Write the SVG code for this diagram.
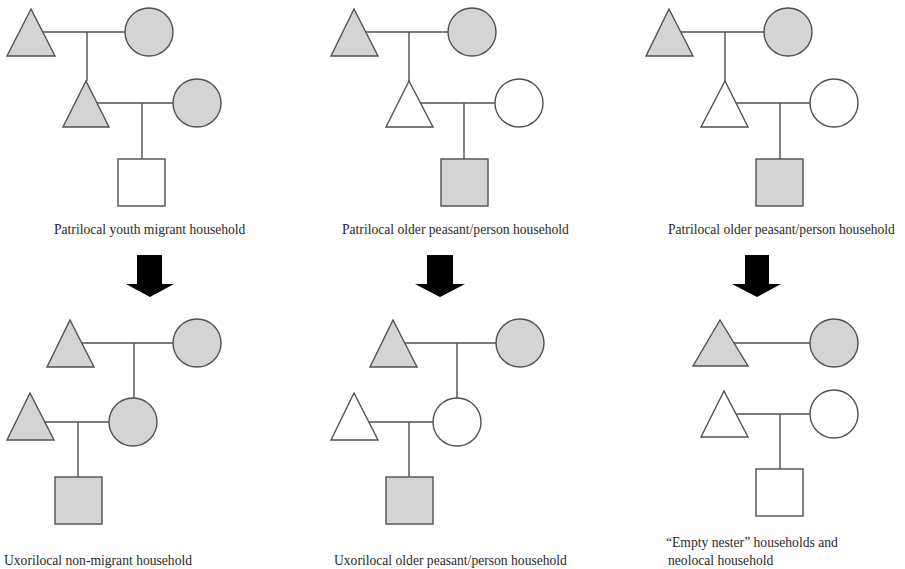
<svg xmlns="http://www.w3.org/2000/svg" width="905" height="569" viewBox="0 0 905 569">
<style>
.s{stroke:#505050;stroke-width:1.4}
.g{fill:#d4d4d4}
.w{fill:#ffffff}
.c{stroke:#505050;stroke-width:1.4;fill:none}
.t{font-family:"Liberation Serif","Times New Roman",serif;font-size:13.6px;fill:#2a2a2a}
.a{fill:#000}
</style>
<rect width="905" height="569" fill="#fff"/>
<g id="connectors">
<path class="c" d="M31 32H149M87 32V81M86 103H197M142 103V159"/>
<path class="c" d="M354 32H472M409 32V81M409 103H519M464 103V159"/>
<path class="c" d="M669 32H788M725 32V81M725 103H834M780 103V159"/>
<path class="c" d="M70 343H197M134 343V398M30 422H133M78 422V477"/>
<path class="c" d="M393 343H520M457 343V398M354 422H457M409 422V477"/>
<path class="c" d="M720 343H834M724 414H834M780 414V469"/>
</g>
<g id="arrows">
<polygon class="a" points="137,255 162,255 162,284 174,284 150,297 126,284 137,284"/>
<polygon class="a" points="427,255 453,255 453,284 465,284 440,297 415,284 427,284"/>
<polygon class="a" points="745,255 769,255 769,284 781,284 757,297 732,284 745,284"/>
</g>
<g id="p1-top-father"><polygon class="s g" points="31,9 7,56 55,56"/></g>
<g id="p1-top-mother"><circle class="s g" cx="149" cy="32" r="24"/></g>
<g id="p1-top-son"><polygon class="s g" points="86,81 63,127 109,127"/></g>
<g id="p1-top-wife"><circle class="s g" cx="197" cy="103" r="24"/></g>
<g id="p1-top-child"><rect class="s w" x="118" y="159" width="47" height="47"/></g>
<g id="p2-top-father"><polygon class="s g" points="354,9 331,56 378,56"/></g>
<g id="p2-top-mother"><circle class="s g" cx="472" cy="32" r="24"/></g>
<g id="p2-top-son"><polygon class="s w" points="409,81 386,127 433,127"/></g>
<g id="p2-top-wife"><circle class="s w" cx="519" cy="103" r="24"/></g>
<g id="p2-top-child"><rect class="s g" x="441" y="159" width="47" height="47"/></g>
<g id="p3-top-father"><polygon class="s g" points="669,9 646,56 693,56"/></g>
<g id="p3-top-mother"><circle class="s g" cx="788" cy="32" r="24"/></g>
<g id="p3-top-son"><polygon class="s w" points="725,81 701,127 748,127"/></g>
<g id="p3-top-wife"><circle class="s w" cx="834" cy="103" r="24"/></g>
<g id="p3-top-child"><rect class="s g" x="756" y="159" width="47" height="47"/></g>
<g id="p1-bot-father"><polygon class="s g" points="70,320 47,367 94,367"/></g>
<g id="p1-bot-mother"><circle class="s g" cx="197" cy="343" r="24"/></g>
<g id="p1-bot-daughter"><circle class="s g" cx="133" cy="422" r="24"/></g>
<g id="p1-bot-husband"><polygon class="s g" points="30,393 7,440 54,440"/></g>
<g id="p1-bot-child"><rect class="s g" x="55" y="477" width="47" height="47"/></g>
<g id="p2-bot-father"><polygon class="s g" points="393,320 370,367 417,367"/></g>
<g id="p2-bot-mother"><circle class="s g" cx="520" cy="343" r="24"/></g>
<g id="p2-bot-daughter"><circle class="s w" cx="457" cy="422" r="24"/></g>
<g id="p2-bot-husband"><polygon class="s w" points="354,393 331,440 378,440"/></g>
<g id="p2-bot-child"><rect class="s g" x="386" y="477" width="47" height="47"/></g>
<g id="p3-bot-father"><polygon class="s g" points="720,320 693,366 748,366"/></g>
<g id="p3-bot-mother"><circle class="s g" cx="834" cy="343" r="24"/></g>
<g id="p3-bot-son"><polygon class="s w" points="724,391 701,437 748,437"/></g>
<g id="p3-bot-wife"><circle class="s w" cx="834" cy="414" r="24"/></g>
<g id="p3-bot-child"><rect class="s w" x="756" y="469" width="47" height="47"/></g>
<g id="labels">
<text class="t" x="54" y="234">Patrilocal youth migrant household</text>
<text class="t" x="342" y="234">Patrilocal older peasant/person household</text>
<text class="t" x="668" y="234">Patrilocal older peasant/person household</text>
<text class="t" x="4" y="565">Uxorilocal non-migrant household</text>
<text class="t" x="334" y="565">Uxorilocal older peasant/person household</text>
<text class="t" x="666" y="547">“Empty nester” households and</text>
<text class="t" x="668" y="565">neolocal household</text>
</g>
</svg>
